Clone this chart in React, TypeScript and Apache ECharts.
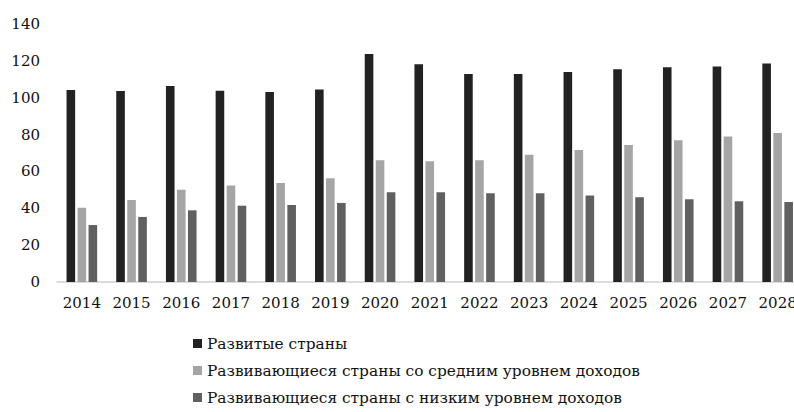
import React, { useEffect, useRef } from "react";
import * as echarts from "echarts";

const years = ["2014", "2015", "2016", "2017", "2018", "2019", "2020", "2021", "2022", "2023", "2024", "2025", "2026", "2027", "2028"];
const developed = [104.2, 103.6, 106.3, 103.8, 103.1, 104.5, 123.7, 118.1, 112.9, 112.9, 113.9, 115.4, 116.5, 117.0, 118.6];
const middleIncome = [40.3, 44.5, 50.1, 52.3, 53.7, 56.3, 66.0, 65.5, 66.0, 69.1, 71.6, 74.3, 76.9, 79.0, 80.8];
const lowIncome = [30.9, 35.3, 38.9, 41.4, 41.8, 42.9, 48.7, 48.7, 48.1, 48.1, 47.0, 46.0, 44.9, 43.8, 43.4];
const seriesNames = [
  "Развитые страны",
  "Развивающиеся страны со средним уровнем доходов",
  "Развивающиеся страны с низким уровнем доходов",
];
const yTicks = { min: 0, max: 140, interval: 20 };

const FONT = "DejaVu Serif";

export default function App() {
  const ref = useRef<HTMLDivElement>(null);
  useEffect(() => {
    if (!ref.current) return;
    const chart = echarts.init(ref.current, null, { renderer: "svg" });
    const barBase = { type: "bar", barWidth: 8.6, barGap: "28%" };
    chart.setOption({
      animation: false,
      backgroundColor: "#ffffff",
      grid: { left: 57, top: 24, width: 745.5, height: 258, containLabel: false, outerBoundsMode: "none" },
      legend: {
        orient: "vertical",
        left: 188,
        top: 331,
        itemWidth: 9,
        itemHeight: 9,
        itemGap: 12,
        icon: "rect",
        textStyle: { fontFamily: FONT, fontSize: 15.4, color: "#111" },
        data: seriesNames,
      },
      xAxis: {
        type: "category",
        data: years,
        axisLine: { show: true, lineStyle: { color: "#d0d0d0", width: 1.5 } },
        axisTick: { show: false },
        axisLabel: { fontFamily: FONT, fontSize: 15, color: "#111", margin: 13, interval: 0 },
      },
      yAxis: {
        type: "value",
        min: yTicks.min,
        max: yTicks.max,
        interval: yTicks.interval,
        axisLine: { show: false },
        axisTick: { show: false },
        splitLine: { show: false },
        axisLabel: { fontFamily: FONT, fontSize: 15, color: "#111", margin: 17 },
      },
      series: [
        { ...barBase, name: seriesNames[0], data: developed, itemStyle: { color: "#222222" } },
        { ...barBase, name: seriesNames[1], data: middleIncome, itemStyle: { color: "#a5a5a5" } },
        { ...barBase, name: seriesNames[2], data: lowIncome, itemStyle: { color: "#606060" } },
      ],
    });
    return () => chart.dispose();
  }, []);
  return (
    <div
      ref={ref}
      style={{ position: "absolute", left: 0, top: 0, width: 794, height: 412 }}
    />
  );
}
